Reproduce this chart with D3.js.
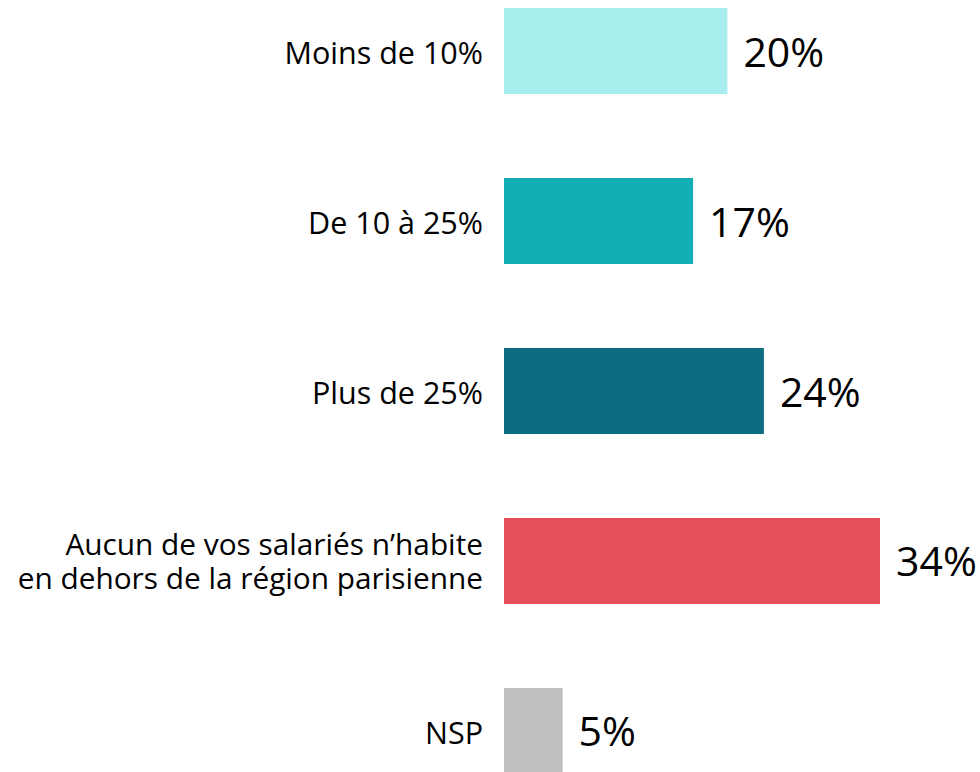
<!DOCTYPE html>
<html>
<head>
<meta charset="utf-8">
<script src="https://cdn.jsdelivr.net/npm/d3@7"></script>
<style>
  html, body { margin: 0; padding: 0; background: #fff; }
  svg { display: block; }
</style>
</head>
<body>
<svg id="chart" width="980" height="772"></svg>
<script>
const categories = [
  ["Moins de 10%"],
  ["De 10 à 25%"],
  ["Plus de 25%"],
  ["Aucun de vos salariés n\u2019habite", "en dehors de la région parisienne"],
  ["NSP"]
];
const values = [20.2, 17.1, 23.5, 34, 5.3];
const valueLabels = ["20%", "17%", "24%", "34%", "5%"];
const colors = ["#A8EEEE", "#13AFB7", "#0E6C80", "#E64F59", "#BFBFBF"];

const svg = d3.select("#chart");
const font = "'Open Sans', 'Noto Sans', sans-serif";

const x = d3.scaleLinear().domain([0, 34]).range([504, 880]);
const y = d3.scaleBand().domain(d3.range(categories.length))
  .range([8, 774]).paddingInner(0.494).paddingOuter(0);

const g = svg.append("g");
const rows = g.selectAll("g.row").data(values).join("g").attr("class", "row");

rows.append("rect")
  .attr("x", x(0))
  .attr("y", (d, i) => y(i))
  .attr("width", d => x(d) - x(0))
  .attr("height", y.bandwidth())
  .attr("fill", (d, i) => colors[i]);

rows.append("text")
  .attr("x", d => x(d) + 16)
  .attr("y", (d, i) => y(i) + y.bandwidth() / 2 + 15.5)
  .attr("font-family", font)
  .attr("font-size", 41)
  .attr("fill", "#000")
  .text((d, i) => valueLabels[i]);

rows.each(function(d, i) {
  const lines = categories[i];
  const cy = y(i) + y.bandwidth() / 2;
  const multi = lines.length > 1;
  const lh = 33.5;
  const off = multi ? 11 : 13;
  lines.forEach((l, k) => {
    d3.select(this).append("text")
      .attr("text-anchor", "end")
      .attr("font-family", font)
      .attr("font-size", multi ? 29.8 : 30.5)
      .attr("fill", "#000")
      .attr("x", 483)
      .attr("y", cy + off + (k - (lines.length - 1) / 2) * lh)
      .text(l);
  });
});
</script>
</body>
</html>
